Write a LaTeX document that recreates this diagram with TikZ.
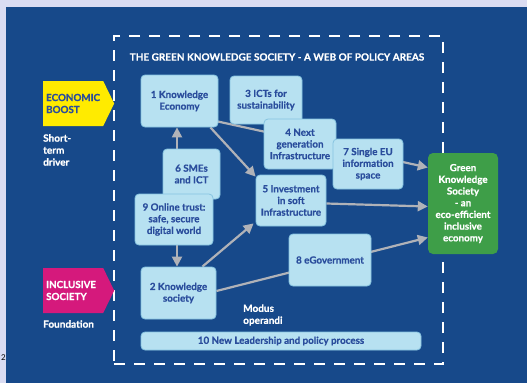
\documentclass[tikz,border=0pt]{standalone}
\usepackage{fontspec}
\setmainfont{Lato}[BoldFeatures={FakeBold=0.6}]
\usetikzlibrary{shapes,shapes.symbols,arrows.meta,calc}
\definecolor{deepblue}{HTML}{17498A}
\definecolor{paleblue}{HTML}{B7E1F1}
\definecolor{edgeblue}{HTML}{86C3E0}
\definecolor{inkblue}{HTML}{2A4D9C}
\definecolor{leafgreen}{HTML}{3E9E48}
\definecolor{flagyellow}{HTML}{FFEB00}
\definecolor{flagpink}{HTML}{D5197C}
\definecolor{arrowgrey}{HTML}{B0B2B8}
\definecolor{lavender}{HTML}{DADCF2}
\pgfdeclarelayer{back}
\pgfdeclarelayer{edges}
\pgfsetlayers{back,edges,main}
\tikzset{
  boxnode/.style = {align=center, inner sep=0pt, font=\bfseries\fontsize{9.8}{11.7}\selectfont},
  area_n/.style = {boxnode, rounded corners=4pt, draw=edgeblue, fill=paleblue, text=inkblue, line width=0.8pt},
  goal_g/.style = {boxnode, rounded corners=5pt, fill=leafgreen, text=white},
  flag_f/.style = {signal, signal to=east, signal pointer angle=128, anchor=west, align=left,
    minimum width=65, minimum height=45, text width=54, inner xsep=3pt,
    font=\bfseries\fontsize{9.8}{12}\selectfont},
  label_w/.style = {white, align=left, anchor=west, inner sep=0pt, font=\bfseries\fontsize{10}{12}\selectfont},
  frame_d/.style = {draw=white, line width=1.8pt, dash pattern=on 11pt off 9pt},
  flow/.style = {draw=arrowgrey, line width=2.2pt, -{Triangle[length=10pt,width=10pt]}}
}

\begin{document}
\begin{tikzpicture}[x=1pt, y=-1pt]
\useasboundingbox (0,0) rectangle (527,383);
\begin{pgfonlayer}{back}
	\fill[lavender] (0,0) rectangle (527,383);
	\fill[deepblue] (6,7) rectangle (527,383);
\end{pgfonlayer}
\node [font=\fontsize{8}{9}\selectfont, inner sep=0pt] (pageno) at (3.5,358) {2};
\node [frame_d, minimum width=329, minimum height=328] (web) at (278.5,200) {};
\node [label_w, anchor=center, font=\bfseries\fontsize{10}{11}\selectfont] (title) at (277,57)
	{THE GREEN KNOWLEDGE SOCIETY - A WEB OF POLICY AREAS};
% drivers on the left
\node [flag_f, fill=flagyellow, text=inkblue] (boost) at (43,103.5) {ECONOMIC\\BOOST};
\node [label_w] (driver) at (43,150) {Short-\\term\\driver};
\node [flag_f, fill=flagpink, text=white] (inclusive) at (43,290.5) {INCLUSIVE\\SOCIETY};
\node [label_w] (foundation) at (43,324) {Foundation};
% policy areas
\node [area_n, minimum width=77, minimum height=52] (n1) at (179.5,101) {1 Knowledge\\Economy};
\node [area_n, minimum width=72, minimum height=48] (n3) at (266,100) {3 ICTs for\\sustainability};
\node [area_n, minimum width=72, minimum height=50] (n4) at (300,144) {4 Next\\generation\\Infrastructure};
\node [area_n, minimum width=70, minimum height=50] (n7) at (368,164) {7 Single EU\\information\\space};
\node [area_n, minimum width=70, minimum height=51] (n5) at (291,200.5) {5 Investment\\in soft\\Infrastructure};
\node [area_n, minimum width=57, minimum height=50] (n6) at (191.5,174) {6 SMEs\\and ICT};
\node [area_n, minimum width=78, minimum height=51] (n9) at (174,219.5) {9 Online trust:\\safe, secure\\digital world};
\node [area_n, minimum width=75, minimum height=52] (n2) at (178.5,293) {2 Knowledge\\society};
\node [area_n, minimum width=82, minimum height=52] (n8) at (330,260) {8 eGovernment};
\node [area_n, minimum width=280, minimum height=18] (n10) at (281,341) {10 New Leadership and policy process};
\node [label_w] (modus) at (243,315) {Modus\\operandi};
\node [goal_g, minimum width=70, minimum height=101] (green) at (463,203.5)
	{Green\\Knowledge\\Society\\- an\\eco-efficient\\inclusive\\economy};
\coordinate (axis) at (177,0);
\begin{pgfonlayer}{edges}
	\draw[flow] (n6.north -| axis) -- (n1.south -| axis);
	\draw[flow] (n9.south -| axis) -- (n2.north -| axis);
	\draw[flow] ($(n1.south east)+(-8,0)$) -- ($(n5.north west)+(0,2)$);
	\draw[flow] ($(n1.south east)+(-1,-6)$) -- ($(green.west)+(0,-36)$);
	\draw[flow] ($(n5.east)+(0,3)$) -- ($(green.west)+(0,3)$);
	\draw[flow] ($(n2.north east)+(-14,0)$) -- ($(n5.south west)+(-2,-3)$);
	\draw[flow] ($(n2.east)+(0,-2)$) -- ($(green.west)+(0,34)$);
\end{pgfonlayer}
\end{tikzpicture}
\end{document}
